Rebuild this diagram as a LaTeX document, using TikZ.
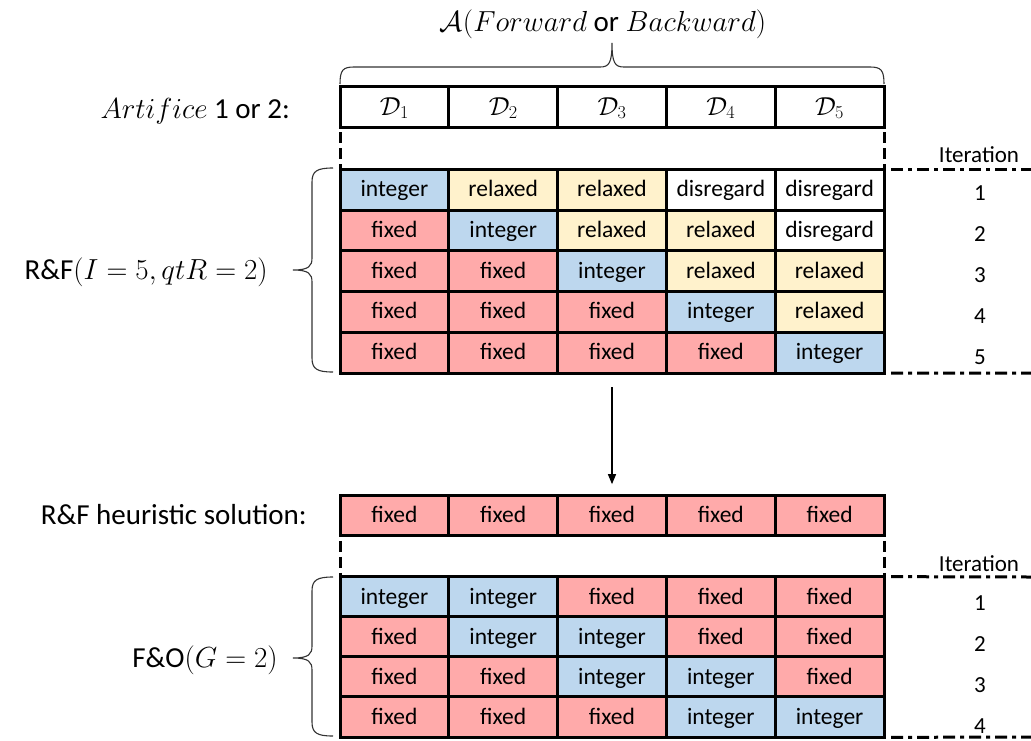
\documentclass[tikz,border=0pt]{standalone}
\usepackage{fix-cm}
\usepackage{fontspec}
\setmainfont{Carlito}
\usetikzlibrary{arrows.meta}

% cell fill colours: integer, relaxed, disregard, fixed
\definecolor{cI}{HTML}{BDD7EE}
\definecolor{cR}{HTML}{FFF2CC}
\definecolor{cD}{HTML}{FFFFFF}
\definecolor{cF}{HTML}{FFAAAA}
\newcommand\labI{integer}
\newcommand\labR{relaxed}
\newcommand\labD{disregard}
\newcommand\labF{fixed}

\tikzset{
  cell/.style={draw=black, line width=3pt, minimum width=108.8pt, minimum height=40.7pt,
    inner sep=0pt, outer sep=0pt, text height=17pt, text depth=3pt,
    font=\fontsize{23.5}{27}\selectfont},
  setcell/.style={cell, fill=white, text height=18pt, text depth=2pt,
    font=\fontsize{26}{30}\selectfont},
  lbl/.style={font=\fontsize{29}{34}\selectfont, inner sep=0pt},
  itx/.style={font=\fontsize{23}{27}\selectfont, inner sep=0pt},
  dashln/.style={line width=3pt, dash pattern=on 11pt off 5pt, shorten <=5pt},
  dashdotln/.style={line width=3pt, dash pattern=on 12pt off 5pt on 4pt off 5pt},
  brc/.style={draw=black!80, line width=1.1pt},
  flow/.style={line width=1.3pt, -{Triangle[length=10pt,width=8pt]}, shorten >=11pt}
}

\begin{document}
\begin{tikzpicture}[x=1pt,y=-1pt]
\useasboundingbox (0,0) rectangle (1031,740);

% header row with the decision sets
\foreach \c in {1,...,5}
  \node[setcell] (d\c) at ({340+108.8*(\c-0.5)},107) {$\mathcal{D}_{\c}$};

% relax-and-fix iterations
\foreach \states [count=\r] in {{I,R,R,D,D},{F,I,R,R,D},{F,F,I,R,R},{F,F,F,I,R},{F,F,F,F,I}} {
  \foreach \s [count=\c] in \states
    \node[cell, fill=c\s] (rf-\r-\c) at ({340+108.8*(\c-0.5)},{169.5+40.7*(\r-0.5)}) {\csname lab\s\endcsname};
  \node[itx, anchor=base] (rfn-\r) at (980,{200+41.2*(\r-1)}) {\r};
}

% heuristic solution row
\foreach \c in {1,...,5}
  \node[cell, fill=cF] (hs-\c) at ({340+108.8*(\c-0.5)},515.5) {fixed};

% fix-and-optimize iterations
\foreach \states [count=\r] in {{I,I,F,F,F},{F,I,I,F,F},{F,F,I,I,F},{F,F,F,I,I}} {
  \foreach \s [count=\c] in \states
    \node[cell, fill=c\s] (fo-\r-\c) at ({340+108.8*(\c-0.5)},{577+40*(\r-0.5)}) {\csname lab\s\endcsname};
  \node[itx, anchor=base] (fon-\r) at (980,{610+41*(\r-1)}) {\r};
}

% left labels
\node[lbl, anchor=base east] (artlbl) at (290,118) {$Artifice$ 1 or 2:};
\node[lbl, anchor=base east] (rflbl) at (268,279) {R\&F$(I=5,qtR=2)$};
\node[lbl, anchor=base east] (hslbl) at (307,524) {R\&F heuristic solution:};
\node[lbl, anchor=base east] (folbl) at (278,667) {F\&O$(G=2)$};
\node[lbl, anchor=base] (toplbl) at (603,31) {$\mathcal{A}(Forward$ or $Backward)$};

% iteration headers
\node[itx, anchor=base] (it1) at (979,162) {Iteration};
\node[itx, anchor=base] (it2) at (979,571) {Iteration};

% brace over the header row
\draw[brc] (340,84) .. controls (340,70) and (343,67) .. (354,67)
  -- (600,67) .. controls (609,67) and (612,63) .. (612,43)
  .. controls (612,63) and (615,67) .. (624,67)
  -- (870,67) .. controls (881,67) and (884,70) .. (884,84);

% brace grouping the relax-and-fix iterations
\draw[brc] (333,168) .. controls (317,168) and (312,171) .. (312,182)
  -- (312,258) .. controls (312,266) and (309,270) .. (293,270)
  .. controls (309,270) and (312,274) .. (312,282)
  -- (312,358) .. controls (312,369) and (317,372) .. (333,372);

% brace grouping the fix-and-optimize iterations
\draw[brc] (333,577) .. controls (317,577) and (312,580) .. (312,591)
  -- (312,646) .. controls (312,654) and (309,658) .. (293,658)
  .. controls (309,658) and (312,662) .. (312,670)
  -- (312,722) .. controls (312,733) and (317,736) .. (333,736);

% dashed guides between the header rows and the tables
\draw[dashln] (d1.south west) -- (rf-1-1.north west);
\draw[dashln] (d5.south east) -- (rf-1-5.north east);
\draw[dashln] (hs-1.south west) -- (fo-1-1.north west);
\draw[dashln] (hs-5.south east) -- (fo-1-5.north east);

% dash-dot extensions marking the iteration range
\coordinate (e1) at (1031,169.5);
\coordinate (e2) at (1031,373);
\coordinate (e3) at (1031,577);
\coordinate (e4) at (1031,737);
\draw[dashdotln] ([xshift=7pt]rf-1-5.north east) -- (e1);
\draw[dashdotln] ([xshift=7pt]rf-5-5.south east) -- (e2);
\draw[dashdotln] ([xshift=7pt]fo-1-5.north east) -- (e3);
\draw[dashdotln] ([xshift=7pt]fo-4-5.south east) -- (e4);

% flow from the relax-and-fix result to the heuristic solution
\coordinate (ast) at (612,387);
\draw[flow] (ast) -- (hs-3.north);
\end{tikzpicture}
\end{document}
